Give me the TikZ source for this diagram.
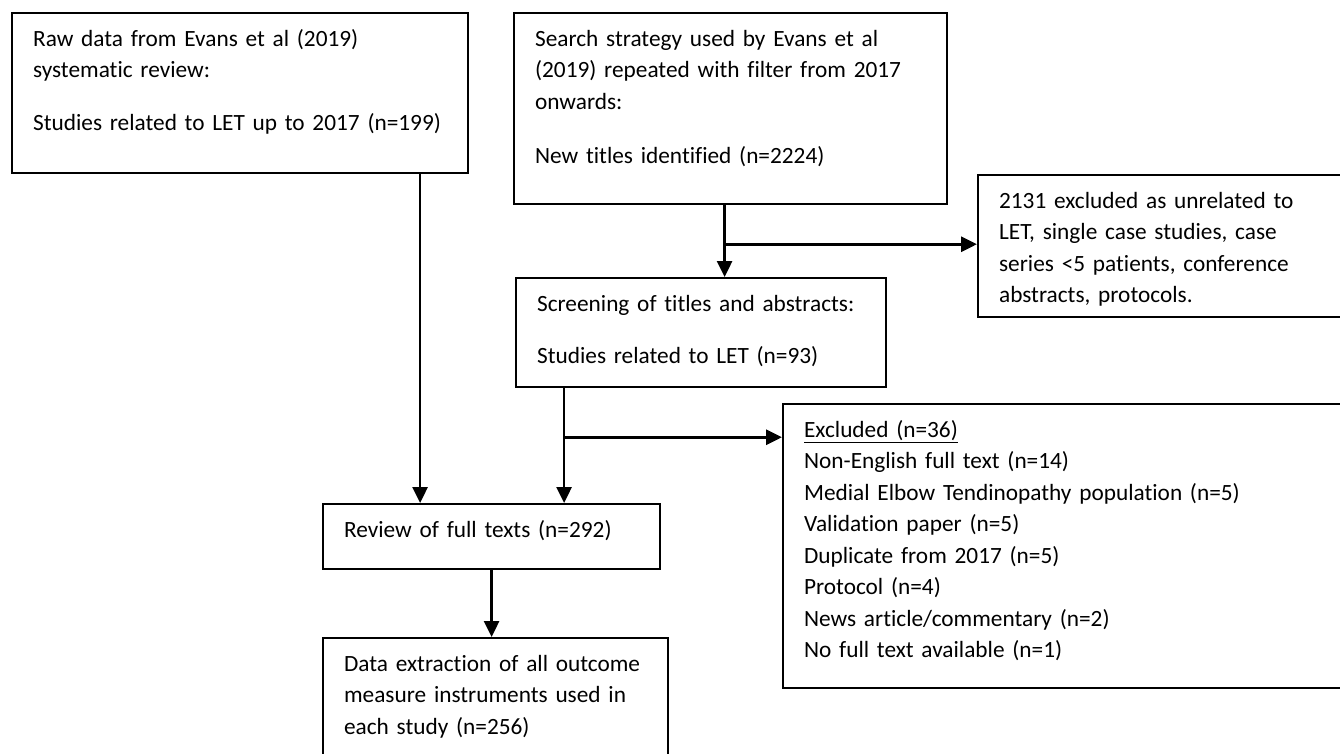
\documentclass[tikz,border=0pt]{standalone}
\usepackage{fontspec}
\setmainfont{Carlito}[Ligatures=NoCommon]
\usetikzlibrary{arrows.meta, positioning, calc}
\hyphenpenalty=10000
\exhyphenpenalty=10000

\begin{document}
\begin{tikzpicture}[
  x=1pt, y=-1pt,
  font=\fontsize{23.3}{31.5}\selectfont,
  box/.style = {rectangle, draw=black, line width=2.2pt, fill=white, anchor=north west,
                align=left, inner xsep=21pt, inner ysep=0pt, text height=33pt},
  arr/.style = {-{Triangle[length=16pt, width=15pt]}, black, line width=2.6pt},
  brr/.style = {-{Triangle[length=16pt, width=15pt]}, black, line width=3pt}
]
\useasboundingbox (0,0) rectangle (1340,753);
\clip (0,0) rectangle (1340,753);

\node[box, text width=414pt, text depth=127pt] (raw) at (11,12)
  {Raw data from Evans et al (2019)\\ systematic review:\\[21pt]
   Studies related to LET up to 2017 (n=199)};
\node[box, text width=391pt, text depth=158pt] (search) at (513,12)
  {Search strategy used by Evans et al\\ (2019) repeated with filter from 2017\\ onwards:\\[23pt]
   New titles identified (n=2224)};
\node[box, text width=358pt, text depth=109pt] (excl1) at (977,174)
  {2131 excluded as unrelated to\\ LET, single case studies, case\\ series <5 patients, conference\\ abstracts, protocols.};
\node[box, text width=328pt, text depth=76pt] (screen) at (515,277)
  {Screening of titles and abstracts:\\[21pt]
   Studies related to LET (n=93)};
\node[box, text width=558pt, text depth=251pt] (excl2) at (782,403)
  {\underline{Excluded (n=36)}\\ Non-English full text (n=14)\\ Medial Elbow Tendinopathy population (n=5)\\
   Validation paper (n=5)\\ Duplicate from 2017 (n=5)\\ Protocol (n=4)\\
   News article/commentary (n=2)\\ No full text available (n=1)};
\node[box, text width=295pt, text depth=32pt] (review) at (322,503)
  {Review of full texts (n=292)};
\node[box, text width=303pt, text depth=117pt] (data) at (322,637)
  {Data extraction of all outcome\\ measure instruments used in\\ each study (n=256)};

% branch points
\coordinate (b1) at ([xshift=-6pt, yshift=-39pt]search.south);
\coordinate (b2) at ([xshift=-137pt, yshift=-49pt]screen.south);

\draw[arr] ([xshift=-6pt]search.south) -- ([xshift=-6pt]search.south |- screen.north);
\draw[brr] (b1) -- (b1 -| excl1.west);

\draw[arr] ([xshift=-137pt]screen.south) -- ([xshift=-137pt]screen.south |- review.north);
\draw[brr] (b2) -- (b2 -| excl2.west);

\draw[arr] ([xshift=180pt]raw.south) -- ([xshift=180pt]raw.south |- review.north);
\draw[arr] (review.south) -- (review.south |- data.north);

\end{tikzpicture}
\end{document}
